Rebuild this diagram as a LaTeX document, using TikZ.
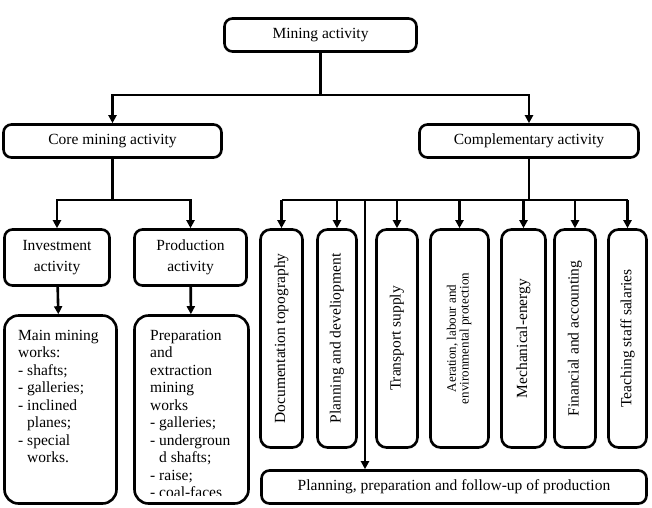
\documentclass[tikz,border=0pt]{standalone}
\usepackage{fontspec}
\setmainfont{Liberation Serif}
\usetikzlibrary{arrows.meta}

\newcommand\uptext[1]{\rotatebox{90}{#1}}
\newcommand\twolines[2]{\begin{tabular}{@{}c@{}}#1\\#2\end{tabular}}

\begin{document}
\begin{tikzpicture}
  [x=1pt,y=-1pt,
   font=\fontsize{15.5}{17.5}\selectfont,
   >={Triangle[length=8pt,width=8pt]},
   thick line/.style={line width=2.6pt},
   box/.style={thick line,draw,rounded corners=8pt,inner sep=0pt,align=center},
   wide box/.style={box,minimum height=33pt},
   tall box/.style={box,rounded corners=10pt,minimum height=218pt},
   list box/.style={box,rounded corners=14pt,minimum height=188pt},
   link/.style={thick line,->}]

  \useasboundingbox (0,0) rectangle (652,507);

  % top levels
  \node[wide box,minimum width=192pt] (mining) at (320.5,35)  {Mining activity};
  \node[wide box,minimum width=218pt] (core)   at (112.5,141) {Core mining activity};
  \node[wide box,minimum width=219pt] (compl)  at (529,141)   {Complementary activity};

  \coordinate (upper bus) at (0,95);
  \coordinate (lower bus) at (0,200);
  \coordinate (split)     at (365,200);

  % core mining side
  \node[box,minimum width=105pt,minimum height=56pt,font=\fontsize{15.5}{21}\selectfont]
    (invest) at (57,257.5)  {Investment\\activity};
  \node[box,minimum width=112pt,minimum height=56pt,font=\fontsize{15.5}{21}\selectfont]
    (prod)   at (190.5,257.5) {Production\\activity};
  \node[list box,minimum width=112pt] (works)     at (60.5,409.5)  {};
  \node[list box,minimum width=114pt] (prodworks) at (191.5,409.5) {};

  \node[anchor=north west,inner sep=0pt,align=left] (works text) at (18,330)
    {Main mining\\works:\\- shafts;\\- galleries;\\- inclined\\\phantom{- }planes;\\
     - special\\\phantom{- }works.};
  \begin{scope}
    \clip (133,314) rectangle (250,495);
    \node[anchor=north west,inner sep=0pt,align=left] (prodworks text) at (150,330)
      {Preparation\\and\\extraction\\mining\\works\\- galleries;\\- undergroun\\
       \phantom{- }d shafts;\\- raise;\\- coal-faces};
  \end{scope}

  % complementary side
  \node[tall box,minimum width=42pt] (doc)   at (281.5,338.5) {\uptext{Documentation topography}};
  \node[tall box,minimum width=39pt] (plan)  at (337,338.5)   {\uptext{Planning and develiopment}};
  \node[tall box,minimum width=41pt] (trans) at (397,338.5)   {\uptext{Transport supply}};
  \node[tall box,minimum width=58pt,font=\fontsize{13}{12.5}\selectfont] (aer) at (459.5,338.5)
    {\uptext{\twolines{Aeration, labour and}{environmental protection}}};
  \node[tall box,minimum width=44pt] (mech)  at (523.5,338.5) {\uptext{Mechanical-energy}};
  \node[tall box,minimum width=41pt] (fin)   at (575,338.5)   {\uptext{Financial and accounting}};
  \node[tall box,minimum width=38pt] (teach) at (627.5,338.5) {\uptext{Teaching staff salaries}};

  \node[wide box,minimum width=385pt] (follow) at (454,487)
    {Planning, preparation and follow-up of production};

  % connectors
  \draw[link] (mining.south) -- (mining.south |- upper bus) -| (core.north);
  \draw[link] (mining.south) -- (mining.south |- upper bus) -| (compl.north);

  \draw[link] (core.south) -- (core.south |- lower bus) -| (invest.north);
  \draw[link] (core.south) -- (core.south |- lower bus) -| (prod.north);
  \draw[link] (invest) -- (works);
  \draw[link] (prod) -- (prodworks);

  \draw[thick line] (compl.south) -- (compl.south |- lower bus);
  \draw[thick line] (doc.north |- lower bus) -- (teach.north |- lower bus);
  \foreach \n in {doc,plan,trans,aer,mech,fin,teach}
    \draw[link] (\n.north |- lower bus) -- (\n.north);
  \draw[link] (split) -- (split |- follow.north);
\end{tikzpicture}
\end{document}
